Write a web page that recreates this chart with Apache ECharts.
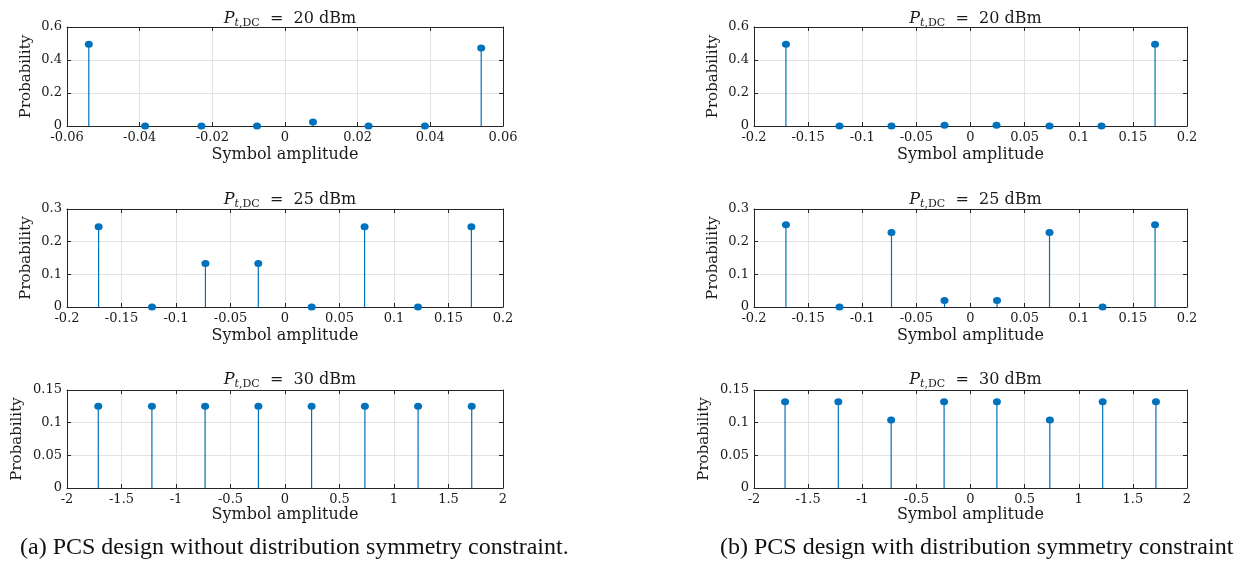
<!DOCTYPE html>
<html>
<head>
<meta charset="utf-8">
<script src="https://cdn.jsdelivr.net/npm/echarts@6/dist/echarts.min.js"></script>
<style>
  html, body { margin: 0; padding: 0; background: #fff; }
  #chart { width: 1246px; height: 562px; }
</style>
</head>
<body>
<div id="chart"></div>
<script>
// symbol amplitudes and probabilities
const ampA20 = [-0.054, -0.0385, -0.023, -0.0077, 0.0077, 0.023, 0.0385, 0.054];
const probA20 = [0.495, 0, 0, 0, 0.024, 0, 0, 0.473];
const ampB20 = [-0.1705, -0.121, -0.073, -0.024, 0.024, 0.073, 0.121, 0.1705];
const probB20 = [0.495, 0, 0, 0.005, 0.005, 0, 0, 0.495];

const ampA25 = [-0.171, -0.122, -0.073, -0.0245, 0.0245, 0.073, 0.122, 0.171];
const probA25 = [0.246, 0, 0.133, 0.133, 0, 0.246, 0, 0.246];
const ampB25 = [-0.1705, -0.121, -0.073, -0.024, 0.0245, 0.073, 0.122, 0.1705];
const probB25 = [0.252, 0, 0.228, 0.02, 0.02, 0.228, 0, 0.252];

const ampA30 = [-1.713, -1.221, -0.733, -0.244, 0.244, 0.733, 1.221, 1.713];
const probA30 = [0.125, 0.125, 0.125, 0.125, 0.125, 0.125, 0.125, 0.125];
const ampB30 = [-1.713, -1.221, -0.733, -0.244, 0.244, 0.733, 1.221, 1.713];
const probB30 = [0.132, 0.132, 0.104, 0.132, 0.132, 0.104, 0.132, 0.132];

// axis limits: [min, max, interval]
const xLimA20 = [-0.06, 0.06, 0.02];
const xLim25 = [-0.2, 0.2, 0.05];
const xLim30 = [-2, 2, 0.5];
const yLim20 = [0, 0.6, 0.2];
const yLim25 = [0, 0.3, 0.1];
const yLim30 = [0, 0.15, 0.05];
const powers = ['20', '25', '30'];

const panels = [
  { amp: ampA20, prob: probA20, xl: xLimA20, yl: yLim20, col: 0, row: 0 },
  { amp: ampB20, prob: probB20, xl: xLim25, yl: yLim20, col: 1, row: 0 },
  { amp: ampA25, prob: probA25, xl: xLim25, yl: yLim25, col: 0, row: 1 },
  { amp: ampB25, prob: probB25, xl: xLim25, yl: yLim25, col: 1, row: 1 },
  { amp: ampA30, prob: probA30, xl: xLim30, yl: yLim30, col: 0, row: 2 },
  { amp: ampB30, prob: probB30, xl: xLim30, yl: yLim30, col: 1, row: 2 },
];

const colLeft = [67, 754];
const colWidth = [436, 433];
const rowTop = [27, 209, 390];
const rowHeight = [99, 98, 98];
const titleTop = [4, 185, 365];

const blue = '#0072BD';
const dark = '#262626';
const serif = 'DejaVu Serif';

let grids = [], xAxes = [], yAxes = [], series = [], titles = [];

panels.forEach((p, i) => {
  grids.push({
    left: colLeft[p.col], top: rowTop[p.row],
    width: colWidth[p.col], height: rowHeight[p.row],
  });
  const tick = { show: true, inside: true, length: 4, lineStyle: { color: dark } };
  const line = { show: true, onZero: false, lineStyle: { color: dark, width: 1 } };
  const lab = { color: '#1a1a1a', fontFamily: serif, fontSize: 13 };
  // bottom / left axes with labels
  xAxes.push({
    type: 'value', gridIndex: i, position: 'bottom',
    min: p.xl[0], max: p.xl[1], interval: p.xl[2],
    axisLine: line, axisTick: tick,
    axisLabel: Object.assign({ margin: 5 }, lab),
    splitLine: { show: true, lineStyle: { color: '#e3e3e3' } },
    name: 'Symbol amplitude', nameLocation: 'middle', nameGap: p.row == 2 ? 19 : 21,
    nameTextStyle: { color: '#1a1a1a', fontFamily: serif, fontSize: 16 },
  });
  yAxes.push({
    type: 'value', gridIndex: i, position: 'left',
    min: p.yl[0], max: p.yl[1], interval: p.yl[2],
    axisLine: line, axisTick: tick,
    axisLabel: Object.assign({ margin: 5 }, lab),
    splitLine: { show: true, lineStyle: { color: '#e3e3e3' } },
    name: 'Probability', nameLocation: 'middle', nameRotate: 90,
    nameGap: p.row == 2 ? 42 : 33,
    nameTextStyle: { color: '#1a1a1a', fontFamily: serif, fontSize: 15 },
  });
  // top / right axes just for the box
  xAxes.push({
    type: 'value', gridIndex: i, position: 'top',
    min: p.xl[0], max: p.xl[1], interval: p.xl[2],
    axisLine: line, axisTick: tick, axisLabel: { show: false }, splitLine: { show: false },
  });
  yAxes.push({
    type: 'value', gridIndex: i, position: 'right',
    min: p.yl[0], max: p.yl[1], interval: p.yl[2],
    axisLine: line, axisTick: tick, axisLabel: { show: false }, splitLine: { show: false },
  });

  const pts = p.amp.map((a, k) => [a, p.prob[k]]);
  series.push({
    type: 'bar', xAxisIndex: i * 2, yAxisIndex: i * 2,
    data: pts, barWidth: 1.2, itemStyle: { color: blue }, silent: true,
  });
  series.push({
    type: 'scatter', xAxisIndex: i * 2, yAxisIndex: i * 2,
    data: pts, symbol: 'circle', symbolSize: [8, 7],
    itemStyle: { color: blue, opacity: 1 }, z: 5, silent: true,
  });

  titles.push({
    left: colLeft[p.col] + colWidth[p.col] / 2, top: titleTop[p.row], textAlign: 'center',
    text: '{i|P}{s|t}{d|,DC}{n|  =  ' + powers[p.row] + ' dBm}',
    textStyle: {
      fontWeight: 'normal',
      rich: {
        i: { fontFamily: serif, fontStyle: 'italic', fontWeight: 'normal', fontSize: 16, color: '#1a1a1a', lineHeight: 20 },
        s: { fontFamily: serif, fontStyle: 'italic', fontWeight: 'normal', fontSize: 11, color: '#1a1a1a', padding: [8, 0, 0, 0], lineHeight: 13 },
        d: { fontFamily: serif, fontWeight: 'normal', fontSize: 11, color: '#1a1a1a', padding: [8, 0, 0, 0], lineHeight: 13 },
        n: { fontFamily: serif, fontWeight: 'normal', fontSize: 16, color: '#1a1a1a', lineHeight: 20 },
      },
    },
  });
});

const chart = echarts.init(document.getElementById('chart'), null, { renderer: 'canvas' });
chart.setOption({
  animation: false,
  backgroundColor: '#fff',
  title: titles,
  grid: grids,
  xAxis: xAxes,
  yAxis: yAxes,
  series: series,
  graphic: [
    { type: 'text', left: 20, top: 536,
      style: { text: '(a) PCS design without distribution symmetry constraint.', fill: '#111',
               font: '24px "Liberation Serif"' } },
    { type: 'text', left: 720, top: 536,
      style: { text: '(b) PCS design with distribution symmetry constraint', fill: '#111',
               font: '24px "Liberation Serif"' } },
  ],
});
</script>
</body>
</html>
